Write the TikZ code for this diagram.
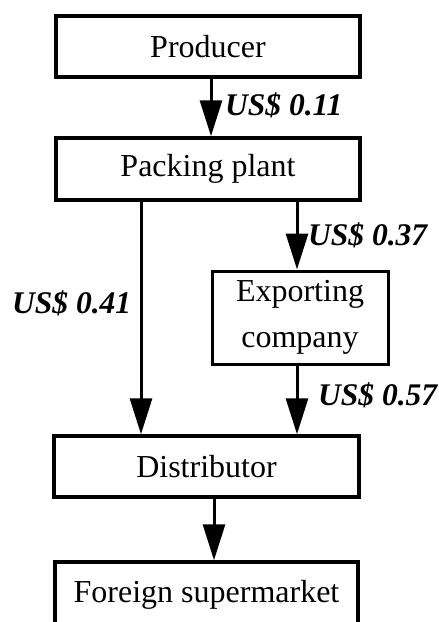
\documentclass[tikz,border=0pt]{standalone}
\usepackage{fontspec}
\setmainfont{Liberation Serif}
\usetikzlibrary{arrows.meta}
\begin{document}
\begin{tikzpicture}[x=1pt,y=-1pt,
  box/.style={draw, line width=3.5pt, inner sep=0pt, align=center,
    font=\fontsize{32}{46}\selectfont},
  arr/.style={line width=3pt, -{Triangle[length=36pt,width=22pt]}},
  price/.style={anchor=base west, inner sep=0pt,
    font=\fontsize{31.5}{36}\selectfont\bfseries\itshape}]
\useasboundingbox (0,0) rectangle (439,622);
\clip (0,0) rectangle (439,622);
\node[box, minimum width=304pt, minimum height=61pt] (prod) at (208,46.5) {Producer};
\node[box, minimum width=304pt, minimum height=62pt] (pack) at (208,169) {Packing plant};
\node[box, minimum width=176pt, minimum height=93pt, line width=3pt] (exp) at (300,317.5) {Exporting\\company};
\node[box, minimum width=305pt, minimum height=61pt] (dist) at (206.5,466.5) {Distributor};
\node[box, minimum width=303pt, minimum height=66pt] (for) at (206.5,595) {Foreign supermarket};
\coordinate (xa) at (211,0);
\coordinate (xb) at (141,0);
\coordinate (xc) at (297,0);
\coordinate (xd) at (214,0);
\draw[arr] (prod.south -| xa) -- (pack.north -| xa);
\draw[arr] (pack.south -| xb) -- (dist.north -| xb);
\draw[arr] (pack.south -| xc) -- (exp.north -| xc);
\draw[arr] (exp.south -| xc) -- (dist.north -| xc);
\draw[arr] (dist.south -| xd) -- (for.north -| xd);
\node[price] (l1) at (225,115) {US\$ 0.11};
\node[price] (l2) at (308,245) {US\$ 0.37};
\node[price] (l3) at (12,313) {US\$ 0.41};
\node[price] (l4) at (318,405) {US\$ 0.57};
\end{tikzpicture}
\end{document}
